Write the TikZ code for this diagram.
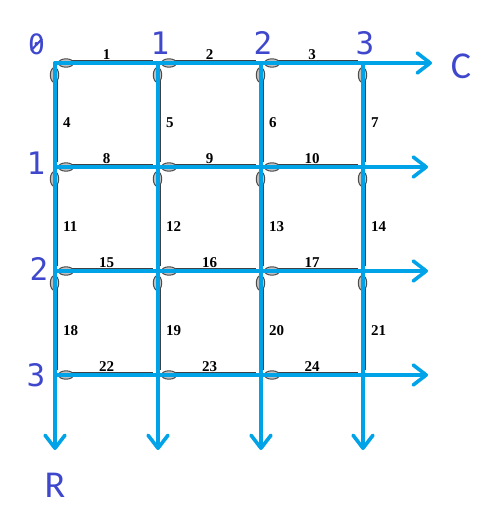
\documentclass[tikz,border=0pt]{standalone}
\usepackage{fontspec}
\setmainfont{Liberation Serif}
\newfontfamily\lblfont{DejaVu Sans Mono}
\newfontfamily\capfont{Carlito}
\usetikzlibrary{arrows.meta,calc}
\definecolor{paintblue}{HTML}{00A2E8}
\definecolor{indigo}{HTML}{3F48CC}
\tikzset{
  gridline/.style={draw=black!75,line width=4.5pt},
  oval/.style={draw=black!70,fill=black!25,line width=1pt},
  bluearrow/.style={draw=paintblue,line width=3.6pt,line cap=round,
    -{Straight Barb[length=13pt,width=20pt,round]}},
  edgenum/.style={font=\fontsize{15}{15}\selectfont\bfseries,inner sep=0pt},
  axisnum/.style={font=\lblfont\fontsize{31}{31}\selectfont,text=indigo,inner sep=0pt,anchor=base},
  axisname/.style={font=\capfont\fontsize{38}{38}\selectfont,text=indigo,inner sep=0pt,anchor=base}
}
\begin{document}
\begin{tikzpicture}[x=1pt,y=-1pt]
\useasboundingbox (0,0) rectangle (500,513);
% grid nodes
\foreach \i/\px in {0/55,1/158,2/261,3/363}
  \foreach \j/\py in {0/63,1/167,2/271,3/375}
    \coordinate (n\i\j) at (\px,\py);
% arrow ends
\coordinate (c0) at (432,63);
\coordinate (c1) at (428,167);
\coordinate (c2) at (428,271);
\coordinate (c3) at (428,375);
\foreach \i/\px in {0/55,1/158,2/261,3/363}
  \coordinate (r\i) at (\px,450);
% dark grid segments (horizontal): from/to/row/number
\foreach \a/\b/\j/\num in {0/1/0/1,1/2/0/2,2/3/0/3,
                           0/1/1/8,1/2/1/9,2/3/1/10,
                           0/1/2/15,1/2/2/16,2/3/2/17,
                           0/1/3/22,1/2/3/23,2/3/3/24}{
  \draw[gridline] ($(n\a\j)+(6,-0.8)$) -- ($(n\b\j)+(-5,-0.8)$);
  \node[edgenum,anchor=base] (h\num) at ($(n\a\j)!0.5!(n\b\j)+(0,-3.5)$) {\num};
}
% vertical: column/from/to/number
\foreach \i/\a/\b/\num in {0/0/1/4,1/0/1/5,2/0/1/6,3/0/1/7,
                           0/1/2/11,1/1/2/12,2/1/2/13,3/1/2/14,
                           0/2/3/18,1/2/3/19,2/2/3/20,3/2/3/21}{
  \draw[gridline] ($(n\i\a)+(0.8,6)$) -- ($(n\i\b)+(0.8,-5)$);
  \node[edgenum,anchor=west] (v\num) at ($(n\i\a)!0.5!(n\i\b)+(8,8)$) {\num};
}
% ovals
\foreach \i in {0,1,2}
  \foreach \j in {0,1,2,3}
    \draw[oval] ($(n\i\j)+(11,0)$) ellipse [x radius=7.5pt, y radius=4.2pt];
\foreach \i in {0,1,2,3}
  \foreach \j in {0,1,2}
    \draw[oval] ($(n\i\j)+(-0.5,12)$) ellipse [x radius=4.2pt, y radius=7.5pt];
% blue lines with arrows
\foreach \j in {0,1,2,3}
  \draw[bluearrow] (n0\j) -- (c\j);
\foreach \i in {0,1,2,3}
  \draw[bluearrow] (n\i0) -- (r\i);
% axis labels
\node[axisnum,font=\lblfont\fontsize{28}{28}\selectfont] (col0) at (36.5,55) {0};
\coordinate (s1) at (31,50.5);
\coordinate (s2) at (42,39);
\draw[indigo,line width=2pt] (s1) -- (s2);
\node[axisnum] (col1) at (160,55) {1};
\node[axisnum] (col2) at (263,55) {2};
\node[axisnum] (col3) at (365,55) {3};
\node[axisnum] (row1) at (36,175) {1};
\node[axisnum] (row2) at (39,280) {2};
\node[axisnum] (row3) at (36,386) {3};
\node[axisname] (C) at (461,79) {C};
\node[axisname] (R) at (55,497) {R};
\end{tikzpicture}
\end{document}
